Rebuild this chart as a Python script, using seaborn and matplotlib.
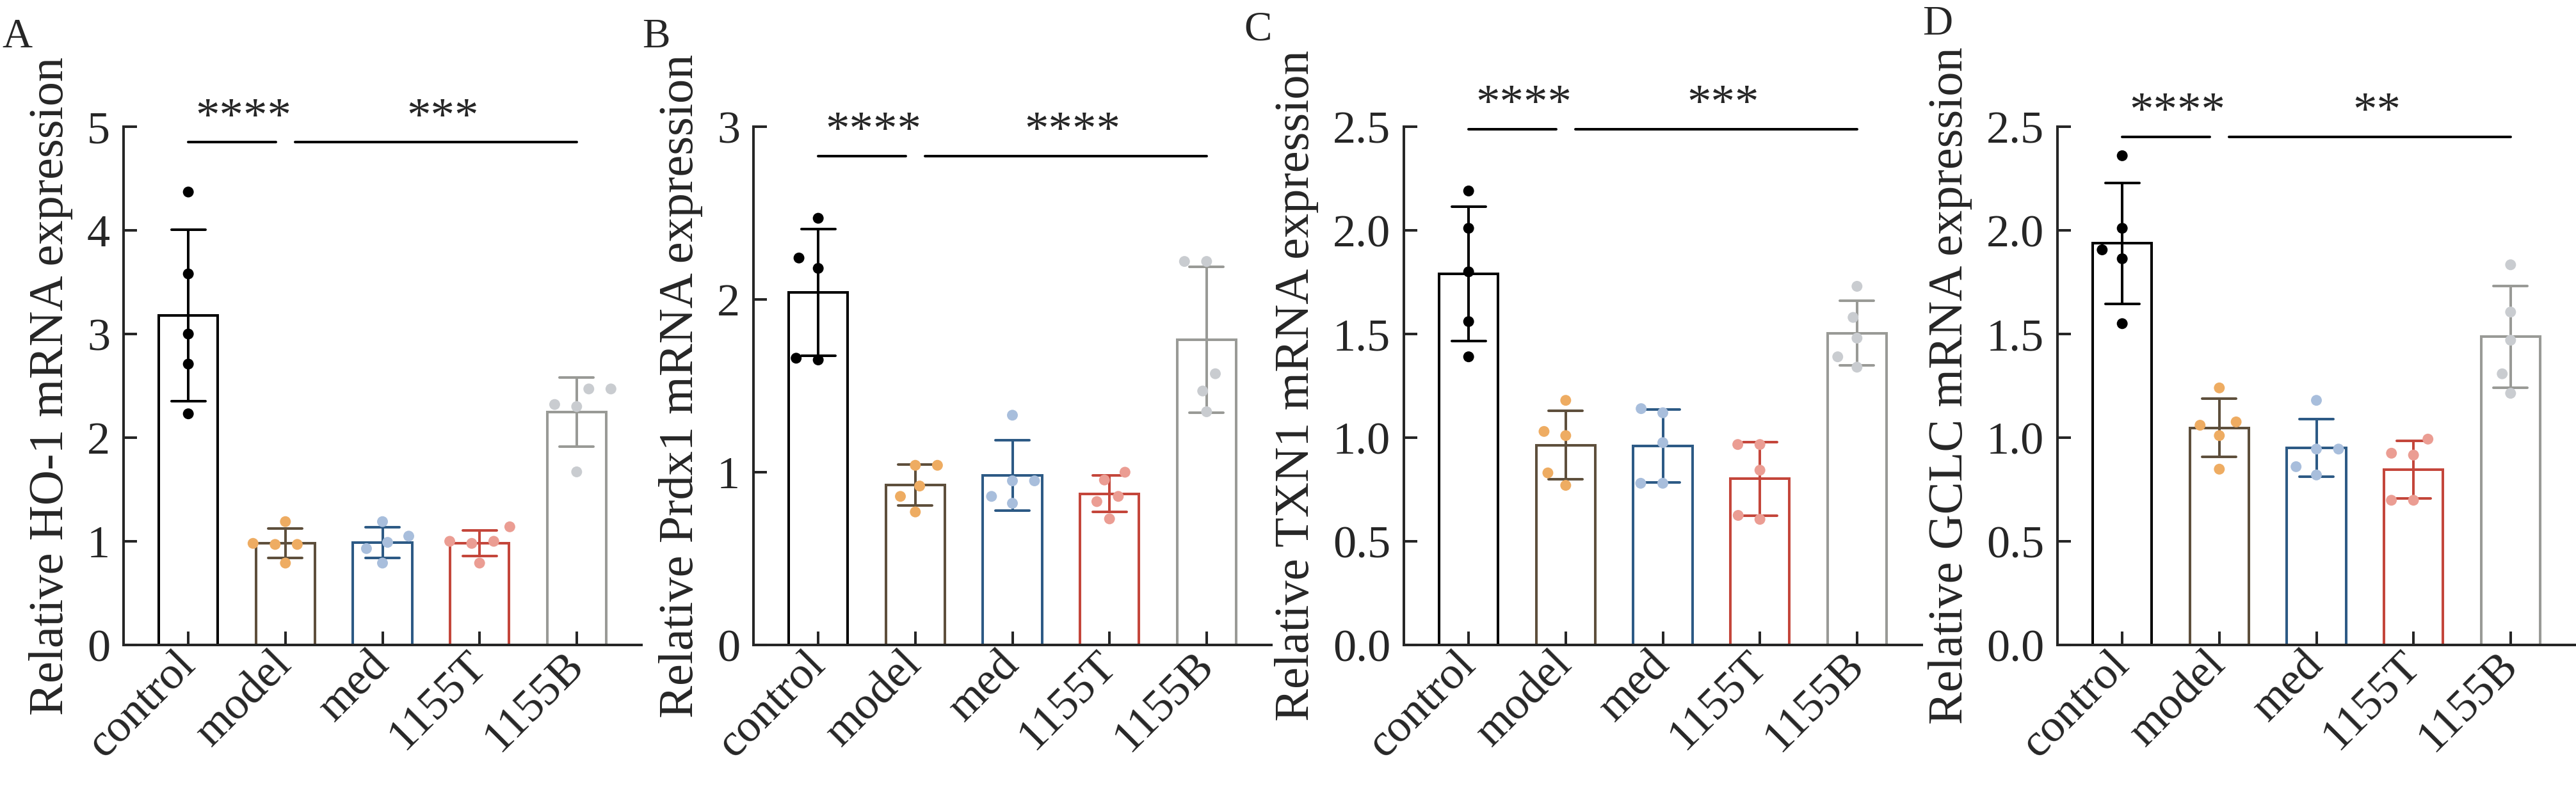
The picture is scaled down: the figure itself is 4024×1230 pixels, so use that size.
import numpy as np
import pandas as pd
import matplotlib
matplotlib.use("Agg")
import matplotlib.pyplot as plt
import seaborn as sns

# groups and the five replicate values per group
groups = ["control", "model", "med", "1155T", "1155B"]

ho1 = [[4.37, 3.58, 3.00, 2.71, 2.23],
       [1.19, 0.98, 0.97, 0.79, 0.97],
       [1.19, 0.99, 1.05, 0.79, 0.93],
       [1.14, 1.00, 0.98, 1.00, 0.79],
       [2.47, 2.47, 2.32, 2.30, 1.67]]

prdx1 = [[2.47, 2.18, 2.24, 1.66, 1.65],
         [1.04, 1.04, 0.92, 0.86, 0.77],
         [1.33, 0.95, 0.95, 0.82, 0.86],
         [1.00, 0.955, 0.86, 0.83, 0.73],
         [2.22, 2.22, 1.57, 1.47, 1.35]]

txn1 = [[2.19, 2.01, 1.80, 1.56, 1.39],
        [1.18, 1.01, 1.03, 0.83, 0.77],
        [1.14, 1.12, 0.976, 0.78, 0.78],
        [0.967, 0.967, 0.843, 0.606, 0.625],
        [1.73, 1.58, 1.48, 1.39, 1.34]]

gclc = [[2.36, 2.01, 1.906, 1.863, 1.55],
        [1.24, 1.06, 1.076, 1.01, 0.848],
        [1.18, 0.945, 0.945, 0.86, 0.82],
        [0.993, 0.916, 0.925, 0.698, 0.698],
        [1.834, 1.606, 1.47, 1.308, 1.214]]

panels = [ho1, prdx1, txn1, gclc]
letters = ["A", "B", "C", "D"]
ylabels = ["Relative HO-1 mRNA expression", "Relative Prdx1 mRNA expression",
           "Relative TXN1 mRNA expression", "Relative GCLC mRNA expression"]
ymax = [5, 3, 2.5, 2.5]
ystep = [1, 1, 0.5, 0.5]
stars_left = ["****", "****", "****", "****"]
stars_right = ["***", "****", "***", "**"]
sig_y = [4.85, 2.83, 2.488, 2.45]

edge_colors = ["#000000", "#5e4f3c", "#2d5a85", "#c4463b", "#999a96"]
dot_colors = ["#000000", "#eeac62", "#a8bedc", "#eb9d93", "#c9ccd0"]

sns.set_style("ticks")
plt.rcParams["font.family"] = ["Liberation Serif", "DejaVu Serif"]

W, H = 4024, 1230
fig = plt.figure(figsize=(W / 100, H / 100), dpi=100)
lefts = [193, 1177, 2193, 3214]
letter_pos = [(3, 28), (1003, 28), (1943, 17), (3003, 9)]
lw = 2.9

for i in range(4):
    ax = fig.add_axes([lefts[i] / W, 1 - 1008 / H, 809 / W, 810 / H])
    df = pd.DataFrame({"group": np.repeat(groups, 5),
                       "value": np.concatenate(panels[i])})

    sns.barplot(data=df, x="group", y="value", hue="group", palette=edge_colors,
                fill=False, width=0.61, errorbar="sd", capsize=0.35, dodge=False,
                linewidth=lw, err_kws={"linewidth": lw}, legend=False, ax=ax)
    # edge width only widens the swarm spacing, the edge itself is not drawn
    sns.swarmplot(data=df, x="group", y="value", hue="group", palette=dot_colors,
                  size=12.2, edgecolor="none", linewidth=11.5, legend=False,
                  zorder=4, ax=ax)

    ax.set_xlim(-0.667, 4.667)
    ax.set_ylim(0, ymax[i])
    ticks = np.arange(0, ymax[i] + 0.01, ystep[i])
    ax.set_yticks(ticks)
    if ystep[i] < 1:
        ax.set_yticklabels(["%.1f" % t for t in ticks])
    else:
        ax.set_yticklabels(["%d" % t for t in ticks])
    ax.set_xticks(range(5))
    ax.set_xticklabels(groups, rotation=45, ha="right", va="center",
                       rotation_mode="anchor")
    ax.set_xlabel("")
    ax.set_ylabel(ylabels[i], fontsize=55, labelpad=16)
    ax.tick_params(direction="in", length=15, width=lw, labelsize=52, pad=15)
    sns.despine(ax=ax)
    for s in ["left", "bottom"]:
        ax.spines[s].set_linewidth(lw)

    y = sig_y[i]
    ax.plot([0, 0.9], [y, y], color="black", lw=lw, clip_on=False)
    ax.plot([1.1, 4], [y, y], color="black", lw=lw, clip_on=False)
    ax.annotate(stars_left[i], xy=(0.57, y), xytext=(0, 2),
                textcoords="offset points", ha="center", va="bottom",
                fontsize=54, annotation_clip=False)
    ax.annotate(stars_right[i], xy=(2.62, y), xytext=(0, 2),
                textcoords="offset points", ha="center", va="bottom",
                fontsize=54, annotation_clip=False)

    fig.text(letter_pos[i][0] / W, 1 - letter_pos[i][1] / H, letters[i],
             fontsize=47, ha="left", va="top")

fig.savefig("out.png", dpi=100)
